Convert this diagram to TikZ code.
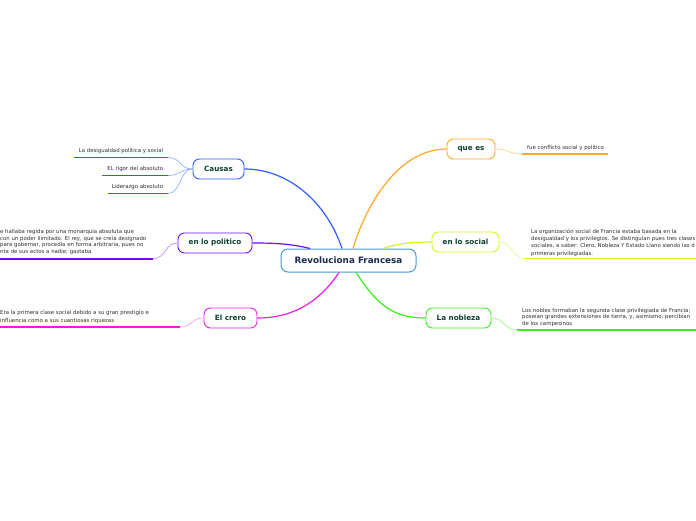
\documentclass[tikz,border=0pt]{standalone}
\usepackage{fontspec}
\setmainfont{DejaVu Sans}
\definecolor{rootc}{HTML}{4A9AD8}
\definecolor{roottext}{HTML}{1B2A4E}
\definecolor{nodetext}{HTML}{0D4030}
\definecolor{leaftext}{HTML}{2E2E2E}
\definecolor{causasblue}{HTML}{2F5DFF}
\definecolor{causasblueL}{HTML}{8FAEFF}
\definecolor{cpurple}{HTML}{6E0BFF}
\definecolor{cpurpleL}{HTML}{B68CFF}
\definecolor{cmag}{HTML}{E81EE8}
\definecolor{cmagL}{HTML}{F39AF3}
\definecolor{corange}{HTML}{FFA726}
\definecolor{corangeL}{HTML}{FFD08A}
\definecolor{cyel}{HTML}{D8F21A}
\definecolor{cyelL}{HTML}{E8F78A}
\definecolor{cgreen}{HTML}{3AEF1A}
\definecolor{cgreenL}{HTML}{9EF58E}
\begin{document}
\begin{tikzpicture}[x=1pt,y=-1pt,
  topic/.style={draw, rounded corners=6.5pt, line width=0.9pt, fill=white,
    minimum height=20pt, inner sep=0pt, font=\fontsize{7.2}{8}\selectfont\bfseries, text=nodetext},
  rootbox/.style={draw=rootc, rounded corners=7pt, line width=1pt, fill=white,
    minimum width=135pt, minimum height=23pt, inner sep=0pt,
    font=\fontsize{8.8}{10}\selectfont\bfseries, text=roottext},
  leaf/.style={inner sep=0pt, align=left, font=\fontsize{5.4}{6.6}\selectfont, text=leaftext},
  mainline/.style={line width=1.2pt},
  subline/.style={line width=0.7pt},
  uline/.style={line width=1.7pt},
  ubar/.style={fill=causasblue, draw=none}]
\useasboundingbox (0,0) rectangle (696,520);

% central and main topics
\node[rootbox] (root) at (348.5,260.5) {Revoluciona Francesa};
\node[topic, draw=causasblue, minimum width=51pt] (causas) at (218.5,169) {Causas};
\node[topic, draw=cpurple, minimum width=74pt] (polit) at (215,243) {en lo politico};
\node[topic, draw=cmag, minimum width=53pt] (crero) at (230.5,318) {El crero};
\node[topic, draw=corange, minimum width=48pt] (quees) at (471,149) {que es};
\node[topic, draw=cyel, minimum width=67pt] (social) at (465.5,242) {en lo social};
\node[topic, draw=cgreen, minimum width=65pt] (nobleza) at (458.5,318) {La nobleza};

% main connectors
\draw[mainline, causasblue] ([xshift=-6.5pt]root.north) .. controls +(-15,-45) and +(45,0) .. (causas.east);
\draw[mainline, corange] ([xshift=4.5pt]root.north) .. controls +(15,-50) and +(-45,0) .. (quees.west);
\draw[mainline, cpurple] ([xshift=-38.5pt]root.north) .. controls +(-20,-5) and +(20,0) .. (polit.east);
\draw[mainline, cyel] ([xshift=34.5pt]root.north) .. controls +(15,-5) and +(-20,0) .. (social.west);
\draw[mainline, cmag] ([xshift=-9.5pt]root.south) .. controls +(-20,30) and +(35,0) .. (crero.east);
\draw[mainline, cgreen] ([xshift=7.5pt]root.south) .. controls +(20,30) and +(-35,0) .. (nobleza.west);

% Causas leaves
\node[leaf, anchor=north east] (l1) at (163.3,148.3) {La desigualdad política y social};
\node[leaf, anchor=north east] (l2) at (163.3,166.3) {EL rigor del absoluto};
\node[leaf, anchor=north east] (l3) at (163.3,184.3) {Liderazgo absoluto};
\coordinate (u1a) at (74,157.5); \coordinate (u1b) at (168,157.5);
\coordinate (u2a) at (102,175.5); \coordinate (u2b) at (168,175.5);
\coordinate (u3a) at (107.5,193.5); \coordinate (u3b) at (168,193.5);
\fill[ubar] ([yshift=0.9pt]u1a) rectangle ([yshift=-0.9pt]u1b);
\fill[ubar] ([yshift=0.9pt]u2a) rectangle ([yshift=-0.9pt]u2b);
\fill[ubar] ([yshift=0.9pt]u3a) rectangle ([yshift=-0.9pt]u3b);
\draw[subline, causasblueL] (causas.west) .. controls +(-13,0) and +(13,0) .. (u1b);
\draw[subline, causasblueL] (causas.west) .. controls +(-13,0) and +(13,0) .. (u2b);
\draw[subline, causasblueL] (causas.west) .. controls +(-13,0) and +(13,0) .. (u3b);

% politico leaf
\node[leaf, anchor=north west, font=\fontsize{5.4}{6.4}\selectfont] (pt) at (0,229.4)
  {e hallaba regida por una monarquía absoluta que\\
   con un poder ilimitado. El rey, que se creía designado\\
   para gobernar, procedía en forma arbitraria, pues no\\
   nta de sus actos a nadie; gastaba};
\coordinate (pa) at (0,258.7); \coordinate (pb) at (153,258.7);
\draw[uline, cpurple] (pa) -- (pb);
\draw[subline, cpurpleL] (polit.west) .. controls +(-13,0) and +(13,0) .. (pb);

% crero leaf
\node[leaf, anchor=north west, font=\fontsize{5.4}{7.4}\selectfont] (ct) at (0,310.4)
  {Era la primera clase social debido a su gran prestigio e\\
   influencia como a sus cuantiosas riquezas};
\coordinate (ca) at (0,327); \coordinate (cb) at (180,327);
\draw[uline, cmag] (ca) -- (cb);
\draw[subline, cmagL] (crero.west) .. controls +(-13,0) and +(13,0) .. (cb);

% que es leaf
\node[leaf, anchor=north west] (qt) at (527,145.1) {fue conflicto social y político};
\coordinate (qa) at (522,154); \coordinate (qb) at (608,154);
\draw[uline, corange] (qa) -- (qb);
\draw[subline, corangeL] (quees.east) .. controls +(13,0) and +(-13,0) .. (qa);

% social leaf
\node[leaf, anchor=north west, font=\fontsize{5.4}{7.3}\selectfont] (st) at (531,228.8)
  {La organización social de Francia estaba basada en la\\
   desigualdad y los privilegios. Se distinguían pues tres clases\\
   sociales, a saber: Clero, Nobleza Y Estado Llano siendo las d\\
   primeras privilegiadas.};
\coordinate (sa) at (525,258.5); \coordinate (sb) at (696,258.5);
\draw[uline, cyel] (sa) -- (sb);
\draw[subline, cyelL] (social.east) .. controls +(13,0) and +(-13,0) .. (sa);

% nobleza leaf
\node[leaf, anchor=north west, font=\fontsize{5.4}{6.7}\selectfont] (nt) at (522,307.8)
  {Los nobles formaban la segunda clase privilegiada de Francia;\\
   poseían grandes extensiones de tierra, y, asimismo, percibían\\
   de los campesinos};
\coordinate (na) at (517,330); \coordinate (nb) at (696,330);
\draw[uline, cgreen] (na) -- (nb);
\draw[subline, cgreenL] (nobleza.east) .. controls +(13,0) and +(-13,0) .. (na);
\end{tikzpicture}
\end{document}
